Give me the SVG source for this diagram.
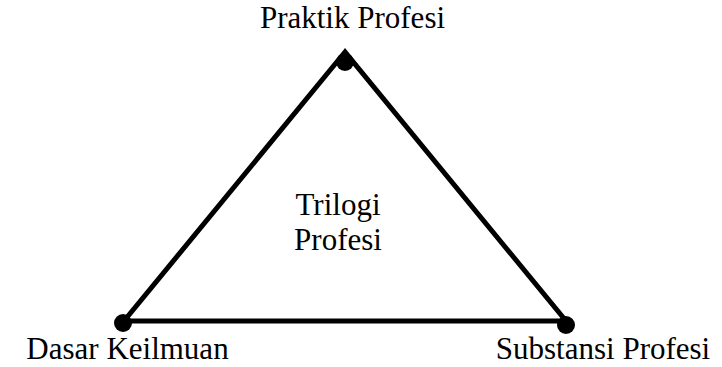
<svg xmlns="http://www.w3.org/2000/svg" width="722" height="367" viewBox="0 0 722 367">
<style>
.t{font-family:'Times New Roman','Liberation Serif','DejaVu Serif',serif;font-size:31px;fill:#000;text-anchor:middle}
.edge{stroke:#000;stroke-width:5;fill:none;stroke-linejoin:miter}
.dot{fill:#000}
</style>
<rect width="722" height="367" fill="#fff"/>
<g id="connectors">
<polygon class="edge" points="345,52 124,321 566,321"/>
</g>
<g id="praktik">
<circle class="dot" cx="345" cy="62" r="9"/>
<text class="t" x="352.5" y="28">Praktik Profesi</text>
</g>
<g id="dasar">
<circle class="dot" cx="123" cy="323" r="9"/>
<text class="t" x="127.5" y="359">Dasar Keilmuan</text>
</g>
<g id="substansi">
<circle class="dot" cx="566" cy="325" r="9"/>
<text class="t" x="603" y="359">Substansi Profesi</text>
</g>
<g id="trilogi">
<text class="t" x="338" y="215">Trilogi</text>
<text class="t" x="338" y="250">Profesi</text>
</g>
</svg>
